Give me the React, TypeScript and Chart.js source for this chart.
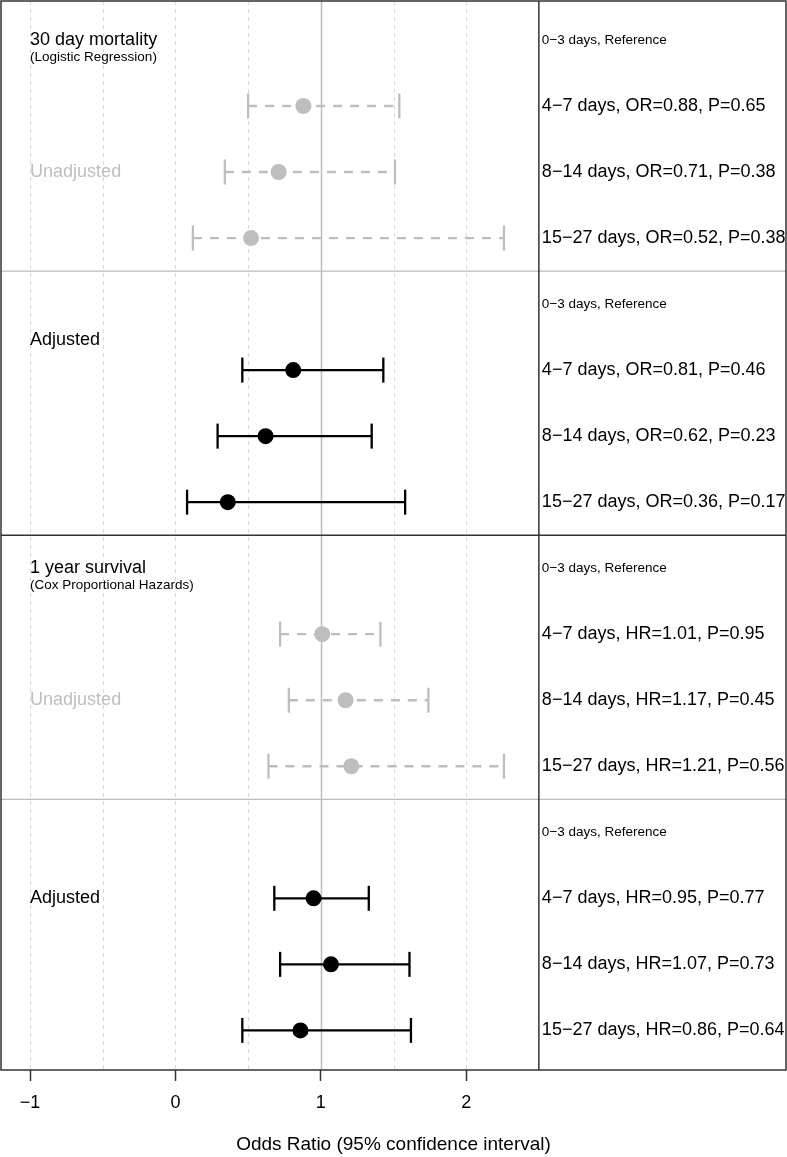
import React, { useEffect, useRef } from "react";
import { Chart, registerables } from "chart.js";

Chart.register(...registerables);

// ---- Data ----
const rowLabels30Unadj = ["0−3 days, Reference", "4−7 days, OR=0.88, P=0.65", "8−14 days, OR=0.71, P=0.38", "15−27 days, OR=0.52, P=0.38"];
const rowLabels30Adj = ["0−3 days, Reference", "4−7 days, OR=0.81, P=0.46", "8−14 days, OR=0.62, P=0.23", "15−27 days, OR=0.36, P=0.17"];
const rowLabels1yUnadj = ["0−3 days, Reference", "4−7 days, HR=1.01, P=0.95", "8−14 days, HR=1.17, P=0.45", "15−27 days, HR=1.21, P=0.56"];
const rowLabels1yAdj = ["0−3 days, Reference", "4−7 days, HR=0.95, P=0.77", "8−14 days, HR=1.07, P=0.73", "15−27 days, HR=0.86, P=0.64"];

const mort30UnadjEst = [0.88, 0.71, 0.52];
const mort30UnadjLow = [0.5, 0.34, 0.12];
const mort30UnadjHigh = [1.54, 1.51, 2.26];

const mort30AdjEst = [0.81, 0.62, 0.36];
const mort30AdjLow = [0.46, 0.29, 0.08];
const mort30AdjHigh = [1.43, 1.35, 1.58];

const surv1yUnadjEst = [1.01, 1.17, 1.21];
const surv1yUnadjLow = [0.72, 0.78, 0.64];
const surv1yUnadjHigh = [1.41, 1.74, 2.26];

const surv1yAdjEst = [0.95, 1.07, 0.86];
const surv1yAdjLow = [0.68, 0.72, 0.46];
const surv1yAdjHigh = [1.33, 1.61, 1.62];

const xTickValues = [-1, 0, 1, 2];
const xGridValues = [-1, -0.5, 0, 0.5, 1, 1.5, 2];

const sectionTitles = ["30 day mortality", "1 year survival"];
const sectionSubtitles = ["(Logistic Regression)", "(Cox Proportional Hazards)"];
const sectionTitleRows = [0, 8];
const sideLabels = ["Unadjusted", "Adjusted", "Unadjusted", "Adjusted"];
const sideLabelRows = [2, 4.55, 10, 13];
const axisTitle = "Odds Ratio (95% confidence interval)";

const GRAY = "#bebebe";
const BLACK = "#000000";
const DARK = "#333333";

const blocks = [
  { labels: rowLabels30Unadj, est: mort30UnadjEst, low: mort30UnadjLow, high: mort30UnadjHigh, adjusted: false },
  { labels: rowLabels30Adj, est: mort30AdjEst, low: mort30AdjLow, high: mort30AdjHigh, adjusted: true },
  { labels: rowLabels1yUnadj, est: surv1yUnadjEst, low: surv1yUnadjLow, high: surv1yUnadjHigh, adjusted: false },
  { labels: rowLabels1yAdj, est: surv1yAdjEst, low: surv1yAdjLow, high: surv1yAdjHigh, adjusted: true },
];

const FONT = "'Liberation Sans', Arial, Helvetica, sans-serif";

export default function App() {
  const ref = useRef<HTMLCanvasElement | null>(null);

  useEffect(() => {
    if (!ref.current) return;

    const pointDatasets: any[] = blocks.map((b, k) => ({
      data: b.est.map((v, i) => ({ x: v, y: 4 * k + 1 + i })),
      showLine: false,
      pointRadius: 8,
      pointHoverRadius: 8,
      pointBackgroundColor: b.adjusted ? BLACK : GRAY,
      pointBorderWidth: 0,
      pointBorderColor: "transparent",
    }));

    const ciDatasets: any[] = [];
    blocks.forEach((b, k) => {
      b.est.forEach((_, i) => {
        const color = b.adjusted ? BLACK : GRAY;
        ciDatasets.push({
          data: [
            { x: b.low[i], y: 4 * k + 1 + i },
            { x: b.high[i], y: 4 * k + 1 + i },
          ],
          showLine: true,
          borderColor: color,
          borderWidth: 2.3,
          borderDash: b.adjusted ? [] : [9, 8],
          pointStyle: "line",
          pointRotation: 90,
          pointRadius: 12.5,
          pointHoverRadius: 12.5,
          pointBorderWidth: 2.3,
          pointBorderColor: color,
          pointBackgroundColor: color,
        });
      });
    });

    const decor = {
      id: "forestDecor",
      beforeDatasetsDraw(chart: any) {
        const { ctx, chartArea: ca, scales } = chart;
        const x = scales.x;
        const y = scales.y;
        ctx.save();
        xGridValues.forEach((v) => {
          const px = Math.round(x.getPixelForValue(v)) + 0.5;
          ctx.beginPath();
          if (v === 1) {
            ctx.setLineDash([]);
            ctx.strokeStyle = "#bdbdbd";
            ctx.lineWidth = 1.5;
          } else {
            ctx.setLineDash([4, 4]);
            ctx.strokeStyle = "#d9d9d9";
            ctx.lineWidth = 1;
          }
          ctx.moveTo(px, ca.top);
          ctx.lineTo(px, ca.bottom);
          ctx.stroke();
        });
        ctx.setLineDash([]);
        const seps = [
          { r: 3.5, c: "#bdbdbd", w: 1.2 },
          { r: 7.5, c: DARK, w: 1.5 },
          { r: 11.5, c: "#bdbdbd", w: 1.2 },
        ];
        seps.forEach((s) => {
          const py = y.getPixelForValue(s.r);
          ctx.beginPath();
          ctx.strokeStyle = s.c;
          ctx.lineWidth = s.w;
          ctx.moveTo(ca.left, py);
          ctx.lineTo(ca.right, py);
          ctx.stroke();
        });
        ctx.restore();
      },
      afterDatasetsDraw(chart: any) {
        const { ctx, chartArea: ca, scales } = chart;
        const x = scales.x;
        const y = scales.y;
        ctx.save();
        ctx.strokeStyle = DARK;
        ctx.lineWidth = 1.5;
        ctx.strokeRect(ca.left, ca.top, ca.right - ca.left, ca.bottom - ca.top);
        const dx = x.getPixelForValue(2.5);
        ctx.beginPath();
        ctx.moveTo(dx, ca.top);
        ctx.lineTo(dx, ca.bottom);
        ctx.stroke();

        ctx.textAlign = "left";
        ctx.textBaseline = "middle";
        ctx.fillStyle = BLACK;
        blocks.forEach((b, k) => {
          b.labels.forEach((lab, i) => {
            const py = y.getPixelForValue(4 * k + i);
            ctx.font = i === 0 ? `13.5px ${FONT}` : `18px ${FONT}`;
            ctx.fillText(lab, dx + 3, py);
          });
        });

        const lx = x.getPixelForValue(-1);
        sectionTitles.forEach((t, s) => {
          const py = y.getPixelForValue(sectionTitleRows[s]);
          ctx.fillStyle = BLACK;
          ctx.font = `18px ${FONT}`;
          ctx.fillText(t, lx, py);
          ctx.font = `13.5px ${FONT}`;
          ctx.fillText(sectionSubtitles[s], lx, py + 17);
        });

        ctx.font = `18px ${FONT}`;
        sideLabels.forEach((t, s) => {
          ctx.fillStyle = t === "Unadjusted" ? GRAY : BLACK;
          ctx.fillText(t, lx, y.getPixelForValue(sideLabelRows[s]));
        });
        ctx.restore();
      },
    };

    const chart = new Chart(ref.current, {
      type: "scatter",
      data: { datasets: [...pointDatasets, ...ciDatasets] },
      options: {
        responsive: false,
        animation: false,
        devicePixelRatio: 1,
        events: [],
        layout: { autoPadding: false, padding: { top: 1, left: 1, right: 1, bottom: 0 } },
        plugins: {
          legend: { display: false },
          tooltip: { enabled: false },
        },
        scales: {
          x: {
            type: "linear",
            min: -1.2,
            max: 4.2,
            afterBuildTicks: (scale: any) => {
              scale.ticks = xTickValues.map((v) => ({ value: v }));
            },
            afterFit: (scale: any) => {
              scale.height = 87;
            },
            border: { display: false },
            grid: {
              display: true,
              drawOnChartArea: false,
              drawTicks: true,
              tickLength: 11,
              tickColor: DARK,
              tickWidth: 1.5,
            },
            ticks: {
              padding: 11,
              color: BLACK,
              font: { family: FONT, size: 18 },
              maxRotation: 0,
              autoSkip: false,
              callback: (v: any) => String(v).replace("-", "−"),
            },
            title: {
              display: true,
              text: axisTitle,
              color: BLACK,
              font: { family: FONT, size: 19 },
              padding: { top: 0, bottom: 1 },
            },
          },
          y: {
            type: "linear",
            display: false,
            reverse: true,
            min: -0.59,
            max: 15.6,
          },
        },
      },
      plugins: [decor],
    });

    return () => chart.destroy();
  }, []);

  return (
    <div style={{ position: "absolute", left: 0, top: 0, width: 787, height: 1157 }}>
      <canvas ref={ref} width={787} height={1157} style={{ display: "block" }} />
    </div>
  );
}
